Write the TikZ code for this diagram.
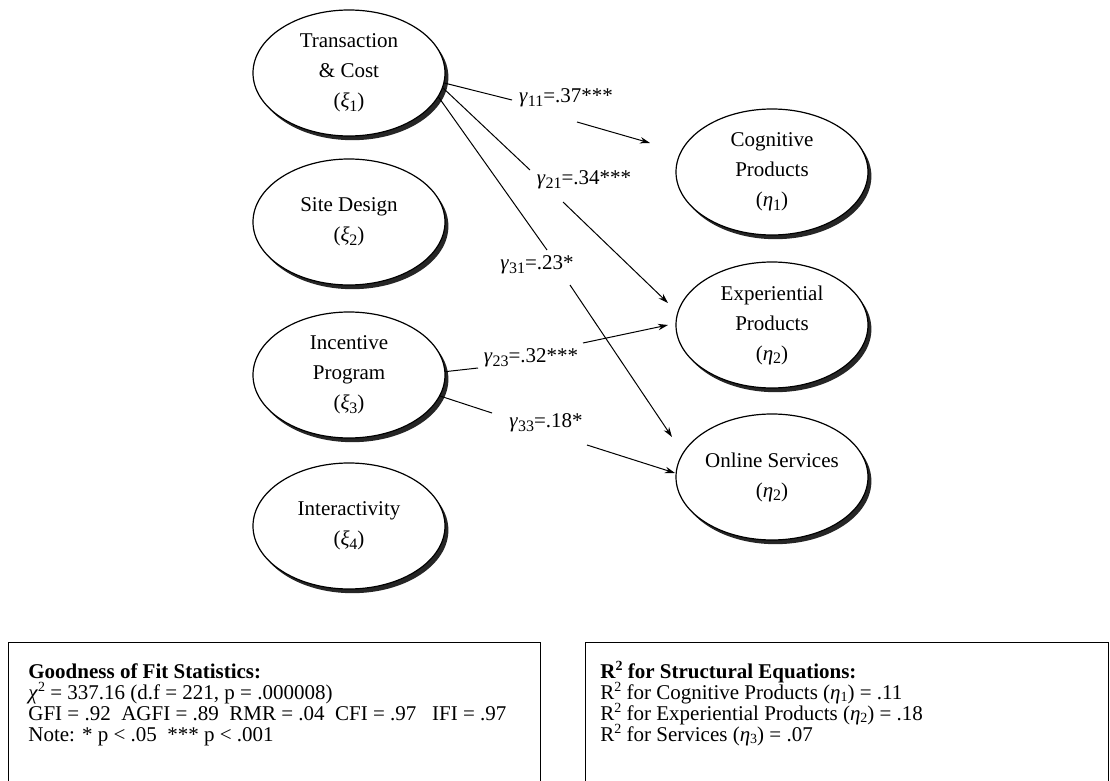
\documentclass[tikz,border=0pt]{standalone}
\usepackage{fontspec}
\setmainfont{Liberation Serif}
\usetikzlibrary{shapes.geometric,arrows.meta,shadows}
\newcommand\lsub[1]{\raisebox{-0.35ex}{\footnotesize #1}}
\newcommand\lsup[1]{\raisebox{0.75ex}{\scriptsize #1}}
\newcommand\esub[1]{\raisebox{-0.25ex}{\scriptsize #1}}
\begin{document}
\begin{tikzpicture}[x=0.5pt,y=-0.5pt,
  lat/.style={ellipse, draw=black, line width=0.6pt, fill=white,
    minimum width=96pt, minimum height=63pt, inner sep=0pt, align=center,
    font=\fontsize{10.5}{15}\selectfont,
    general shadow={fill=black!85, shadow xshift=1.7pt, shadow yshift=-2.1pt}},
  conn/.style={line width=0.5pt},
  arr/.style={line width=0.5pt, -{Stealth[length=5pt,width=3.2pt]}},
  glab/.style={font=\fontsize{10.5}{12}\selectfont, inner sep=0pt},
  statbox/.style={draw, line width=0.6pt, anchor=north west, inner sep=0pt},
  bline/.style={anchor=base west, inner sep=0pt, font=\fontsize{10.5}{12}\selectfont},
]
\useasboundingbox (0,0) rectangle (1110,781);

% exogenous constructs
\node[lat] (T) at (349,73) {Transaction\\\& Cost\\(\textit{ξ}\lsub{1})};
\node[lat] (S) at (349,222) {Site Design\\(\textit{ξ}\lsub{2})};
\node[lat] (I) at (349,375) {Incentive\\Program\\(\textit{ξ}\lsub{3})};
\node[lat] (X) at (349,526) {Interactivity\\(\textit{ξ}\lsub{4})};

% endogenous constructs
\node[lat] (C) at (772,172) {Cognitive\\Products\\(\textit{η}\lsub{1})};
\node[lat] (E) at (772,325) {Experiential\\Products\\(\textit{η}\lsub{2})};
\node[lat] (O) at (772,477) {Online Services\\(\textit{η}\lsub{2})};

% path labels
\node[glab] (g11) at (566,98) {\textit{γ}\lsub{11}=.37***};
\node[glab] (g21) at (584,180) {\textit{γ}\lsub{21}=.34***};
\node[glab] (g31) at (537,265) {\textit{γ}\lsub{31}=.23*};
\node[glab] (g23) at (531,358) {\textit{γ}\lsub{23}=.32***};
\node[glab] (g33) at (546,423) {\textit{γ}\lsub{33}=.18*};

% break points and arrow tips
\coordinate (a11) at (512,100); \coordinate (b11) at (577,122); \coordinate (t11) at (650,143);
\coordinate (a21) at (530,170); \coordinate (b21) at (563,202); \coordinate (t21) at (668,303);
\coordinate (a31) at (547,250); \coordinate (b31) at (570,285); \coordinate (t31) at (672,437);
\coordinate (a23) at (478,368); \coordinate (b23) at (583,343); \coordinate (t23) at (668,325);
\coordinate (a33) at (492,413); \coordinate (b33) at (587,445); \coordinate (t33) at (675,473);

\draw[conn] (T.-6) -- (a11);  \draw[arr] (b11) -- (t11);
\draw[conn] (T.-9) -- (a21);  \draw[arr] (b21) -- (t21);
\draw[conn] (T.-15) -- (a31); \draw[arr] (b31) -- (t31);
\draw[conn] (I.2) -- (a23);   \draw[arr] (b23) -- (t23);
\draw[conn] (I.-13) -- (a33); \draw[arr] (b33) -- (t33);

% statistics boxes (their lower edge lies below the picture's border)
\node[statbox, minimum width=266pt, minimum height=76pt] (gbox) at (8,642) {};
\node[statbox, minimum width=261.5pt, minimum height=76pt] (rbox) at (585,642) {};

\node[bline] (gf1) at (28,678) {\textbf{Goodness of Fit Statistics:}};
\node[bline] (gf2) at (28,699) {\textit{χ}\lsup{2} = 337.16 (d.f = 221, p = .000008)};
\node[bline] (gf3) at (28,720) {GFI = .92\ \ AGFI = .89\ \ RMR = .04\ \ CFI = .97\ \ \ IFI = .97};
\node[bline] (gf4) at (28,741) {Note: * p < .05\ \ *** p < .001};

\node[bline] (r1) at (600,678) {\textbf{R\lsup{\textbf{2}} for Structural Equations:}};
\node[bline] (r2) at (600,699) {R\lsup{2} for Cognitive Products (\textit{η}\esub{1}) = .11};
\node[bline] (r3) at (600,720) {R\lsup{2} for Experiential Products (\textit{η}\esub{2}) = .18};
\node[bline] (r4) at (600,741) {R\lsup{2} for Services (\textit{η}\esub{3}) = .07};
\end{tikzpicture}
\end{document}
